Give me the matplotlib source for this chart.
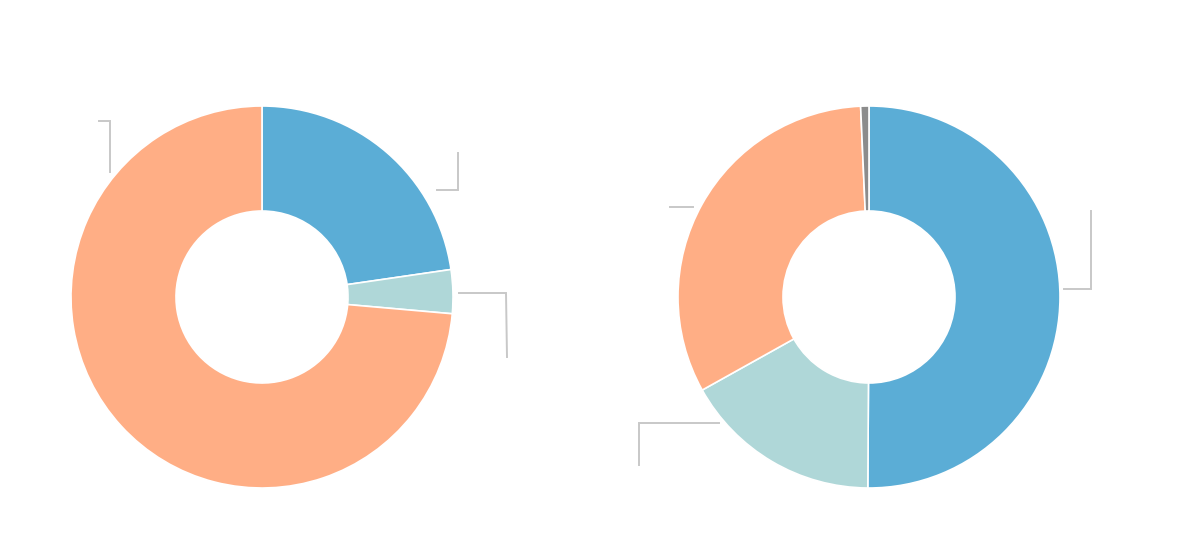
import matplotlib
matplotlib.use("Agg")
import matplotlib.pyplot as plt

# slice shares (percent), clockwise from 12 o'clock
left_values = [22.7, 3.7, 73.6]
left_colors = ['#5badd6', '#afd7d8', '#ffae85']

right_values = [50.1, 16.8, 32.4, 0.7]
right_colors = ['#5badd6', '#afd7d8', '#ffae85', '#8c8c8c']

# layout in pixels
W, H = 1200, 534
R_OUT = 191
R_IN = 86
left_center = (262, H - 297)
right_center = (869, H - 297)

fig = plt.figure(figsize=(W / 100, H / 100), dpi=100)
ax = fig.add_axes([0, 0, 1, 1])

for vals, cols, c in [(left_values, left_colors, left_center),
                      (right_values, right_colors, right_center)]:
    ax.pie(vals, colors=cols, center=c, radius=R_OUT, startangle=90,
           counterclock=False,
           wedgeprops=dict(width=R_OUT - R_IN, edgecolor='white', linewidth=1.2))

# label connectors (labels themselves are blank in the source)
connectors = [
    [(110, 172), (110, 121), (99, 121)],
    [(437, 190), (458, 190), (458, 153)],
    [(459, 293), (506, 293), (507, 357)],
    [(1064, 289), (1091, 289), (1091, 211)],
    [(719, 423), (639, 423), (639, 465)],
    [(693, 207), (670, 207)],
]
for pts in connectors:
    xs = [p[0] for p in pts]
    ys = [H - p[1] for p in pts]
    ax.plot(xs, ys, color='#c8c8c8', linewidth=1.4, solid_joinstyle='miter')

ax.set_xlim(0, W)
ax.set_ylim(0, H)
ax.set_aspect('auto')
ax.axis('off')

fig.savefig('out.png', dpi=100, facecolor='white')
